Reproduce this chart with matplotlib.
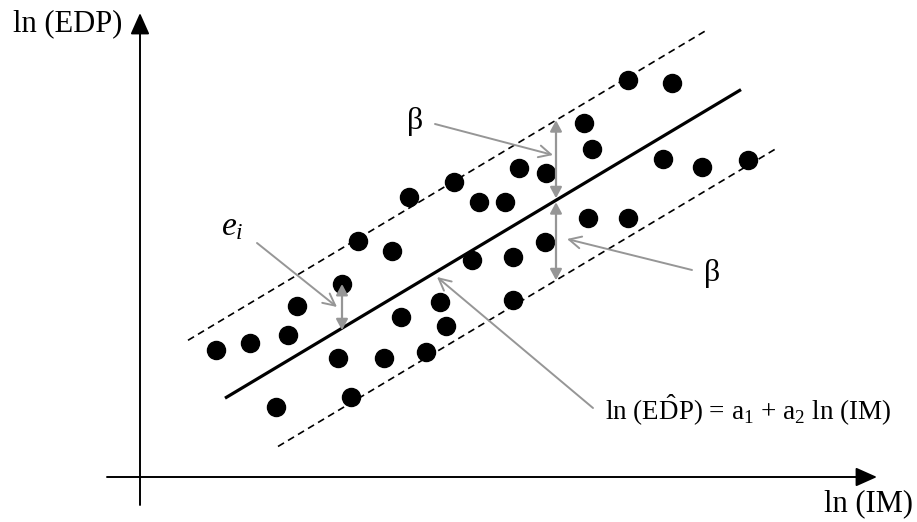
import numpy as np
import matplotlib.pyplot as plt

plt.rcParams['font.family'] = ['Liberation Serif', 'DejaVu Serif']
plt.rcParams['mathtext.fontset'] = 'custom'
plt.rcParams['mathtext.rm'] = 'Liberation Serif'
plt.rcParams['mathtext.it'] = 'Liberation Serif:italic'

# scatter of ln(IM) vs ln(EDP), arbitrary units, origin at the axes corner
ln_im = [76, 110, 148, 157, 202, 218, 252, 269, 314, 339, 365, 379, 406,
         444, 452, 488, 532, 523, 562, 608, 448, 488, 405, 373, 332, 300,
         306, 373, 261, 244, 286, 198, 211, 136]
ln_edp = [127, 134, 142, 171, 193, 236, 226, 280, 295, 275, 275, 309, 304,
          354, 328, 397, 394, 318, 310, 317, 259, 259, 235, 220, 217, 175,
          151, 177, 160, 119, 125, 119, 80, 70]

# fitted line ln(EDP^) = a1 + a2 ln(IM), band at +/- beta
a1 = 28.0
a2 = 0.598
beta = 80.0
fit_x = [85, 601]
upper_x = [48, 565]
lower_x = [138, 637]

# residual shown for one point, band widths shown at one abscissa
ei_idx = 4
beta_x = 416

gray = '#969696'

fig = plt.figure(figsize=(9.17, 5.22), dpi=100)
ax = fig.add_axes([0, 0, 1, 1])
ax.set_xlim(-140, 777)
ax.set_ylim(-45, 477)
ax.axis('off')

# axes with arrowheads
axis_arrow = dict(arrowstyle='-|>,head_length=1.3,head_width=0.58',
                  color='black', lw=1.4, shrinkA=0, shrinkB=0)
ax.annotate('', xy=(737, 0), xytext=(-33, 0), arrowprops=axis_arrow)
ax.annotate('', xy=(0, 464), xytext=(0, -28), arrowprops=axis_arrow)
ax.text(-127, 453, 'ln (EDP)', fontsize=22, ha='left', va='center')
ax.text(773, -27, 'ln (IM)', fontsize=22, ha='right', va='center')

# regression line and dashed band
fx = np.array(fit_x)
ax.plot(fx, a1 + a2 * fx, color='black', lw=2.3, solid_capstyle='butt')
ux = np.array(upper_x)
ax.plot(ux, a1 + a2 * ux + beta, color='black', lw=1.2, linestyle=(0, (4.2, 2.8)))
lx = np.array(lower_x)
ax.plot(lx, a1 + a2 * lx - beta, color='black', lw=1.2, linestyle=(0, (4.2, 2.8)))

ax.plot(ln_im, ln_edp, 'o', color='black', ms=13, zorder=3)

# double-headed gray arrows
dbl = dict(arrowstyle='<|-|>,head_length=0.65,head_width=0.35',
           color=gray, lw=1.6, shrinkA=0, shrinkB=0)
y_mid = a1 + a2 * beta_x
ax.annotate('', xy=(beta_x, y_mid + beta), xytext=(beta_x, y_mid + 2), arrowprops=dbl)
ax.annotate('', xy=(beta_x, y_mid - beta), xytext=(beta_x, y_mid - 2), arrowprops=dbl)
single = dict(arrowstyle='-|>,head_length=0.65,head_width=0.35',
              color=gray, lw=1.6, shrinkA=0, shrinkB=0)
ex = ln_im[ei_idx]
ax.annotate('', xy=(ex, ln_edp[ei_idx]), xytext=(ex, a1 + a2 * ex - 2),
            arrowprops=dict(dbl))

# pointer arrows with labels
ptr = dict(arrowstyle='->,head_length=0.86,head_width=0.43',
           color=gray, lw=1.4, shrinkA=0, shrinkB=0)
ax.annotate('', xy=(beta_x - 3, 322), xytext=(295, 353), arrowprops=ptr)
ax.text(275, 356, r'β', fontsize=23, ha='center', va='center')
ax.annotate('', xy=(beta_x + 11, 238), xytext=(552, 207), arrowprops=ptr)
ax.text(572, 204, r'β', fontsize=23, ha='center', va='center')
ax.annotate('', xy=(ex - 5, 170), xytext=(117, 234), arrowprops=ptr)
ax.text(92, 250, r'$e_i$', fontsize=24, ha='center', va='center')
ax.annotate('', xy=(297, 200), xytext=(453, 69), arrowprops=ptr)
ax.text(465, 67, r'ln (E$\hat{\mathrm{D}}$P) = a$_1$ + a$_2$ ln (IM)',
        fontsize=19.5, ha='left', va='center')

fig.savefig('out.png', dpi=100)
